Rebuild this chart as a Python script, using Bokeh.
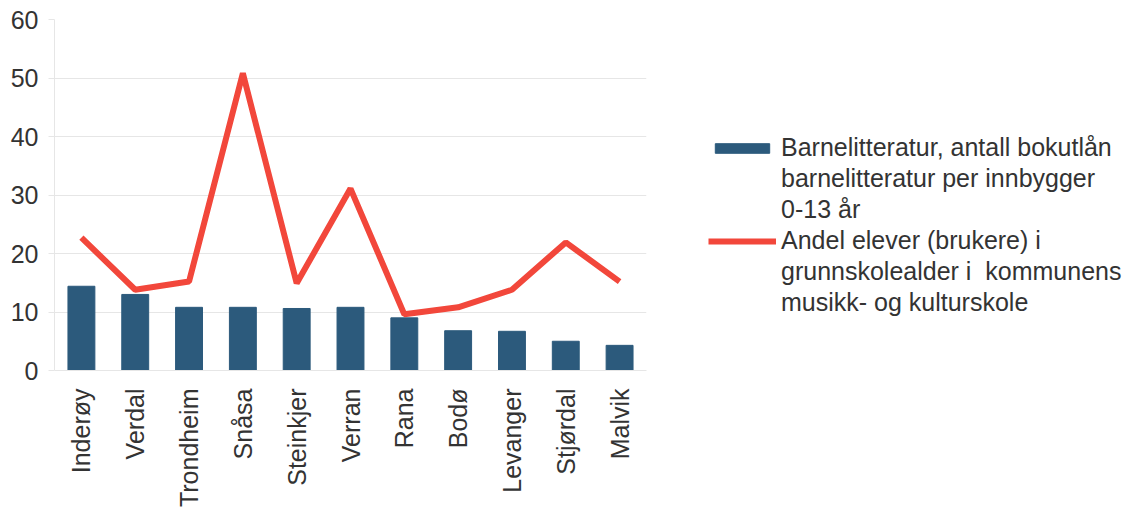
import math
from bokeh.plotting import figure
from bokeh.models import Range1d, Legend, LegendItem, FactorRange
from bokeh.embed import file_html
from bokeh.resources import INLINE

categories = ["Inderøy", "Verdal", "Trondheim", "Snåsa", "Steinkjer", "Verran",
              "Rana", "Bodø", "Levanger", "Stjørdal", "Malvik"]
bokutlan = [14.4, 13.0, 10.8, 10.8, 10.6, 10.8, 9.0, 6.8, 6.7, 5.0, 4.3]
kulturskole = [22.7, 13.8, 15.2, 50.8, 14.9, 31.1, 9.6, 10.8, 13.8, 21.9, 15.2]
yticks = [0, 10, 20, 30, 40, 50, 60]

label_bar = ["Barnelitteratur, antall bokutlån", "barnelitteratur per innbygger", "0-13 år"]
label_line = ["Andel elever (brukere) i", "grunnskolealder i  kommunens", "musikk- og kulturskole"]

FONT = "Liberation Sans"
TXT = "#333333"

p = figure(frame_width=592, frame_height=351, x_range=FactorRange(*categories, range_padding=0),
           y_range=Range1d(0, 60), output_backend="svg", toolbar_location=None,
           min_border_left=54, min_border_top=19, min_border_bottom=129, min_border_right=0)
p.outline_line_color = None
p.background_fill_color = "white"

bars = p.vbar(x=categories, top=bokutlan, width=0.5, color="#2c5a7c")
line = p.line(x=categories, y=kulturskole, line_color="#f2473b", line_width=6)
# invisible renderer used for the continuation lines of the legend labels
blank = p.scatter(x=[], y=[], alpha=0)

p.yaxis.ticker = yticks
p.yaxis.major_label_text_font = FONT
p.yaxis.major_label_text_font_size = "25px"
p.yaxis.major_label_text_color = TXT
p.yaxis.major_label_standoff = 10
p.yaxis.major_tick_out = 6
p.yaxis.major_tick_in = 0
p.yaxis.minor_tick_line_color = None
p.yaxis.axis_line_color = "#e6e6e6"
p.yaxis.major_tick_line_color = "#e6e6e6"

p.xaxis.major_label_orientation = math.pi / 2
p.xaxis.major_label_text_font = FONT
p.xaxis.major_label_text_font_size = "25px"
p.xaxis.major_label_text_color = TXT
p.xaxis.major_label_standoff = 12
p.xaxis.axis_line_color = "#e6e6e6"
p.xaxis.major_tick_line_color = None

p.xgrid.grid_line_color = None
p.ygrid.grid_line_color = "#e6e6e6"

items = [LegendItem(label=label_bar[0], renderers=[bars])]
items += [LegendItem(label=t, renderers=[blank]) for t in label_bar[1:]]
items += [LegendItem(label=label_line[0], renderers=[line])]
items += [LegendItem(label=t, renderers=[blank]) for t in label_line[1:]]

legend = Legend(items=items, location=(62, 52), border_line_color=None,
                background_fill_alpha=0,
                label_text_font=FONT, label_text_font_size="25px",
                label_text_color=TXT, glyph_width=68, glyph_height=12,
                label_height=31, spacing=0, label_standoff=5, padding=0, margin=0)
p.add_layout(legend, "right")

open("out.html", "w").write(file_html(p, INLINE))
